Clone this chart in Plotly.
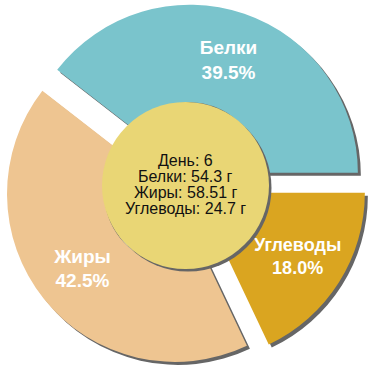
import plotly.graph_objects as go

labels = ["Углеводы", "Жиры", "Белки"]
values = [24.7, 58.51, 54.3]
colors = ["#DAA520", "#EEC591", "#7AC4CC"]
day = 6
units = "г"
grams = dict(zip(labels, values))
center_lines = [
    f"День: {day}",
    f"Белки: {grams['Белки']} {units}",
    f"Жиры: {grams['Жиры']} {units}",
    f"Углеводы: {grams['Углеводы']} {units}",
]

W = H = 370
cx, cy = 185.5, 185.5      # pie centre in pixels (from top)
R = 168.0
PULL = 0.08
HOLE = 0.42
half = R * (1 + PULL)
sh = 3.0                     # shadow offset px
circ_r = 83.5

def clamp(v):
    return min(1.0, max(0.0, v))

def dom(dx=0.0, dy=0.0):
    x0 = (cx + dx - half) / W
    x1 = (cx + dx + half) / W
    yc = H - (cy + dy)
    return dict(x=[clamp(x0), clamp(x1)], y=[clamp((yc - half) / H), clamp((yc + half) / H)])

common = dict(labels=labels, values=values, sort=False, direction="clockwise",
              rotation=90, pull=[PULL] * 3, hole=HOLE, showlegend=False)

fig = go.Figure()
# shadow pie
fig.add_trace(go.Pie(
    **common, domain=dom(sh, sh),
    marker=dict(colors=["#666666"] * 3, line=dict(width=0)),
    textinfo="none", hoverinfo="skip",
))
# main pie
fig.add_trace(go.Pie(
    **common, domain=dom(),
    marker=dict(colors=colors, line=dict(width=0)),
    texttemplate="<b>%{label}</b><br><b>%{percent:.1%}</b>",
    textposition="inside", insidetextorientation="horizontal",
    insidetextfont=dict(family="Liberation Sans, Arial, sans-serif", size=19, color="white"),
))

def circle(dx, dy, color):
    yc = H - (cy + dy)
    return dict(type="circle", xref="paper", yref="paper",
                x0=(cx + dx - circ_r) / W, x1=(cx + dx + circ_r) / W,
                y0=(yc - circ_r) / H, y1=(yc + circ_r) / H,
                fillcolor=color, line=dict(width=0), layer="above")

shapes = [circle(2.5, 2.5, "#666666"), circle(0, 0, "#E9D675")]

line_y = [160.0, 176.0, 192.0, 208.0]
annotations = []
for txt, yy in zip(center_lines, line_y):
    annotations.append(dict(
        text=txt, xref="paper", yref="paper", x=185 / W, y=1 - yy / H,
        xanchor="center", yanchor="middle", showarrow=False,
        font=dict(family="Liberation Sans, Arial, sans-serif", size=16, color="#111111"),
    ))

fig.update_layout(
    width=W, height=H, margin=dict(l=0, r=0, t=0, b=0),
    paper_bgcolor="white", plot_bgcolor="white",
    shapes=shapes, annotations=annotations,
)
fig.write_html("out.html", config={"displayModeBar": False},
               post_script="document.body.style.margin='0';")
